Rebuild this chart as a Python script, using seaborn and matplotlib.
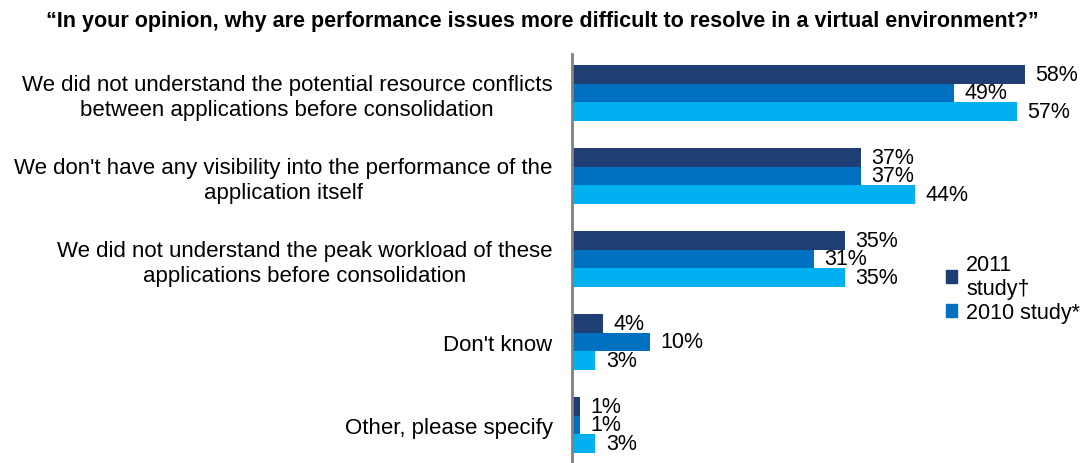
import pandas as pd
import matplotlib.pyplot as plt
import seaborn as sns
from matplotlib.patches import Patch

# Survey answers and percentages per study
answers = [
    "We did not understand the potential resource conflicts\nbetween applications before consolidation",
    "We don't have any visibility into the performance of the\napplication itself",
    "We did not understand the peak workload of these\napplications before consolidation",
    "Don't know",
    "Other, please specify",
]
studies = ["2011 study†", "2010 study*", "2009 study"]
pct_2011 = [58, 37, 35, 4, 1]
pct_2010 = [49, 37, 31, 10, 1]
pct_2009 = [57, 44, 35, 3, 3]
colors = ["#1F3E74", "#0070C0", "#00B0F0"]

rows = []
for study, vals in zip(studies, [pct_2011, pct_2010, pct_2009]):
    for a, v in zip(answers, vals):
        rows.append({"Answer": a, "Percent": v, "Study": study})
df = pd.DataFrame(rows)

sns.set_style("white")
plt.rcParams["font.family"] = ["Liberation Sans", "DejaVu Sans"]
plt.rcParams["text.color"] = "black"
plt.rcParams["ytick.color"] = "black"

fig = plt.figure(figsize=(10.84, 4.64), dpi=100)
ax = fig.add_axes([572 / 1084, 0, 512 / 1084, 1 - 55 / 464])

sns.barplot(data=df, y="Answer", x="Percent", hue="Study", orient="h",
            palette=colors, width=0.67, gap=0, legend=False, ax=ax,
            saturation=1, edgecolor="none")

# value labels at the end of each bar
for cont, vals in zip(ax.containers, [pct_2011, pct_2010, pct_2009]):
    ax.bar_label(cont, labels=[f"{v}%" for v in vals], padding=7.5,
                 fontsize=15.5, color="black")

ax.set_xlim(0, 65.6)
ax.set_ylim(4.46, -0.47)
ax.set_xlabel("")
ax.set_ylabel("")
ax.set_xticks([])
ax.tick_params(axis="y", length=0, pad=14, labelsize=16, labelcolor="black")
for lbl in ax.get_yticklabels():
    lbl.set_multialignment("center")
for s in ["top", "right", "bottom"]:
    ax.spines[s].set_visible(False)
ax.spines["left"].set_color("#808080")
ax.spines["left"].set_linewidth(2)

# legend only shows the first two studies, as in the original
handles = [Patch(color=colors[0]), Patch(color=colors[1])]
fig.legend(handles, ["2011\nstudy†", "2010 study*"], loc="upper left",
           bbox_to_anchor=(937 / 1084, 1 - 246 / 464), frameon=False,
           fontsize=15.5, handlelength=0.55, handleheight=0.55,
           handletextpad=0.4, labelspacing=0.15, borderaxespad=0)

fig.text(0.5, 1 - 22 / 464,
         "“In your opinion, why are performance issues more difficult to resolve in a virtual environment?”",
         ha="center", va="center", fontsize=15.5, fontweight="bold")

fig.savefig("out.png", dpi=100)
